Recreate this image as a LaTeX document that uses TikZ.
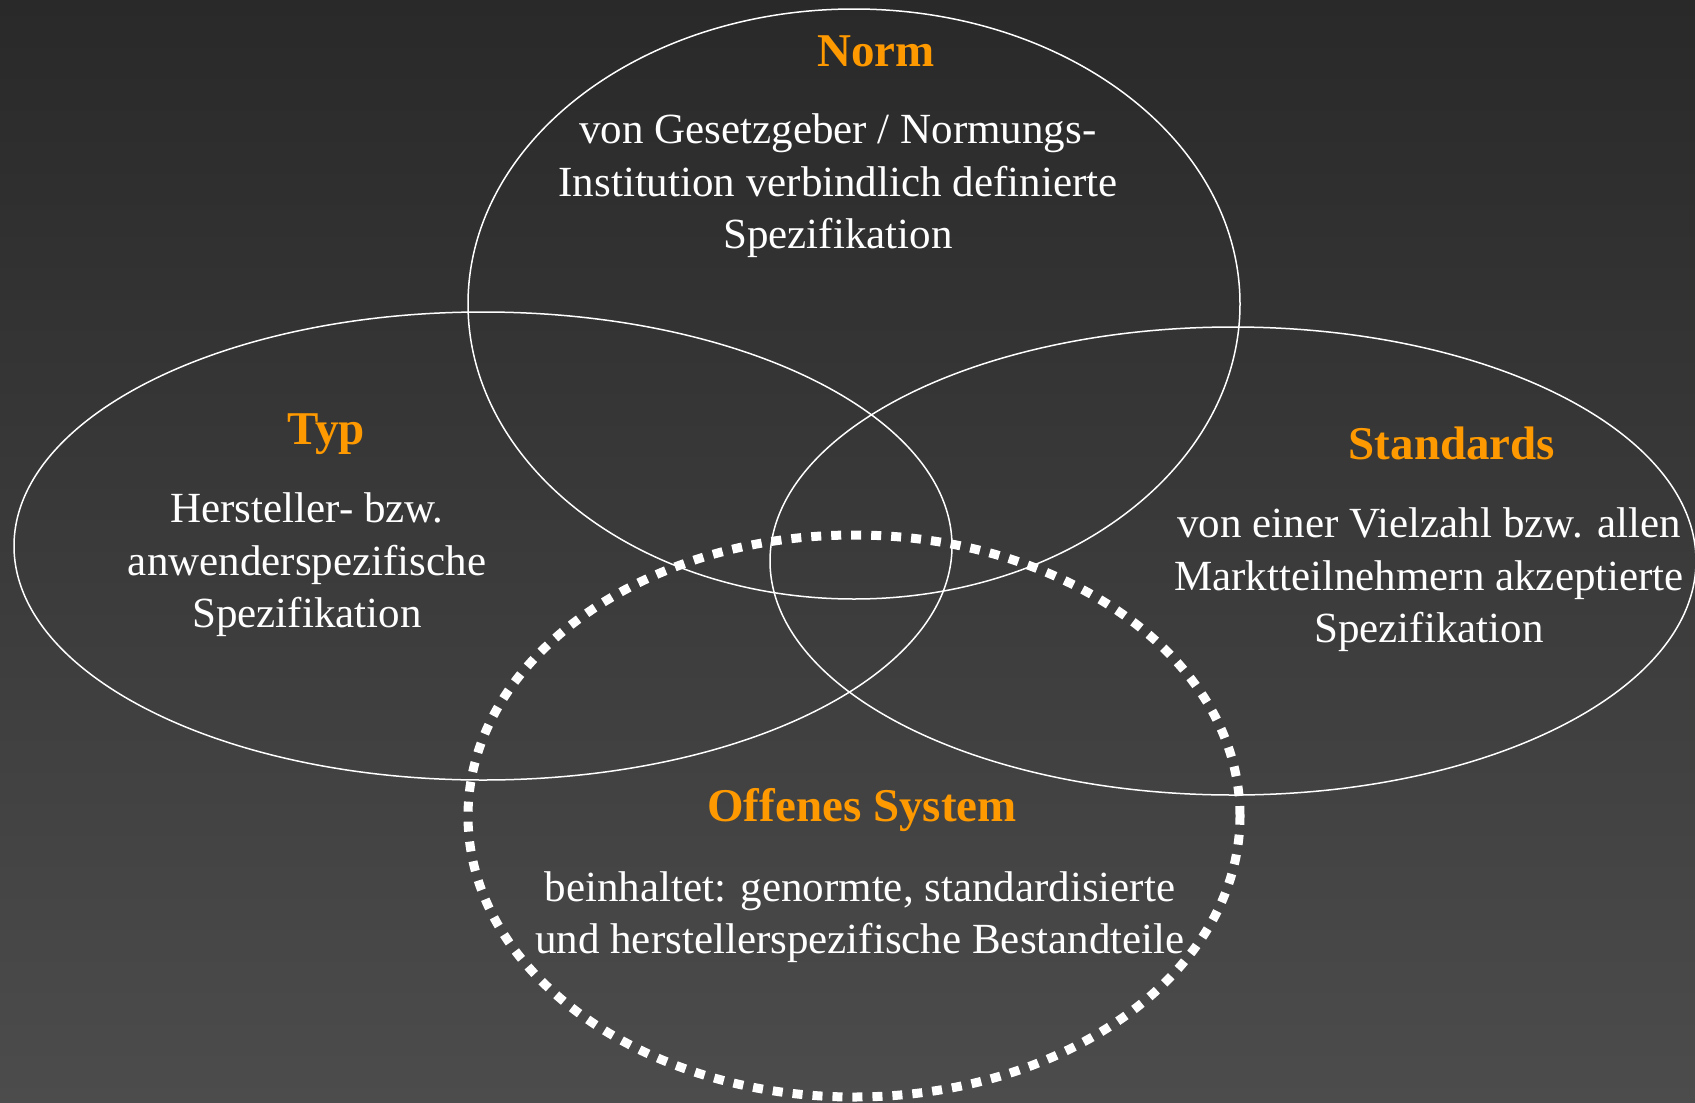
\documentclass[tikz,border=0pt]{standalone}
\usepackage{fontspec}
\setmainfont{Liberation Serif}
\usepackage{tikz}
\usetikzlibrary{positioning}
\definecolor{bgTop}{RGB}{41, 41, 41}
\definecolor{bgBottom}{RGB}{76, 76, 76}
\definecolor{titleOrange}{RGB}{255, 153, 0}
\tikzset{
  setTitle/.style={text=titleOrange, font=\bfseries\fontsize{47}{56}\selectfont, inner sep=0pt},
  setText/.style={text=white, font=\fontsize{43}{52.5}\selectfont, align=center, inner sep=0pt},
  setLine/.style={draw=white, line width=1.5pt},
  openLine/.style={draw=white, line width=9pt, dash pattern=on 10pt off 10pt}
}
\begin{document}
\begin{tikzpicture}[x=1pt, y=-1pt]
    \shade[top color=bgTop, bottom color=bgBottom] (0,0) rectangle (1695,1103);
    \useasboundingbox (0,0) rectangle (1695,1103);
    \draw[setLine] (854,304) ellipse [x radius=386pt, y radius=295pt];
    \draw[setLine] (483,546) ellipse [x radius=469pt, y radius=234pt];
    \draw[setLine] (1233,561) ellipse [x radius=463pt, y radius=234pt];
    \draw[openLine] (854,816) ellipse [x radius=386pt, y radius=281pt];
    \node[setTitle] (norm) at (876,51) {Norm};
    \node[setText] (normText) at (838,186) {von Gesetzgeber / Normungs-\\Institution verbindlich definierte\\Spezifikation};
    \node[setTitle] (typ) at (326,434) {Typ};
    \node[setText] (typText) at (307,565) {Hersteller- bzw.\\anwenderspezifische\\Spezifikation};
    \node[setTitle] (standards) at (1452,443) {Standards};
    \node[setText] (standardsText) at (1429,580) {von einer Vielzahl bzw. allen\\Marktteilnehmern akzeptierte\\Spezifikation};
    \node[setTitle] (offen) at (862,810) {Offenes System};
    \node[setText] (offenText) at (860,917) {beinhaltet: genormte, standardisierte\\und herstellerspezifische Bestandteile};
\end{tikzpicture}
\end{document}
